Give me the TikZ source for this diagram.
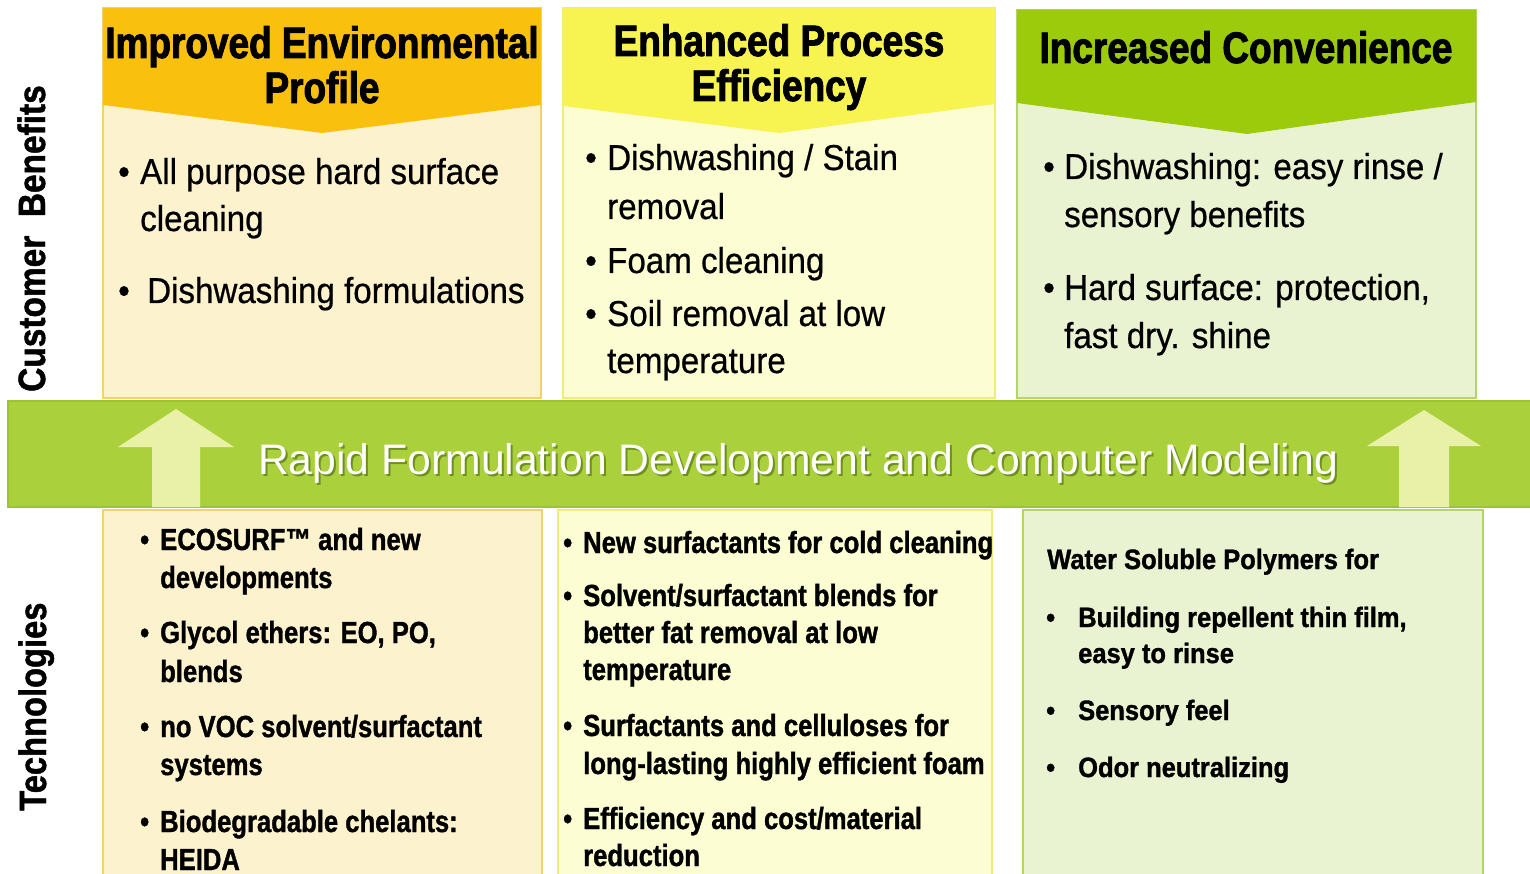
\documentclass[tikz,border=0pt]{standalone}
\usepackage{fontspec}
\setmainfont{Liberation Sans}
\newfontfamily\headfont[FakeStretch=0.84, FakeBold=2]{Liberation Sans}
\newfontfamily\bodyfont[FakeStretch=0.92, FakeBold=0.6]{Liberation Sans}
\newfontfamily\techfont[FakeStretch=0.84, FakeBold=1.2]{Liberation Sans}
\newfontfamily\polyfont[FakeStretch=0.91, FakeBold=1.2]{Liberation Sans}
\newfontfamily\sidefont[FakeStretch=0.88, FakeBold=1.2]{Liberation Sans}
\newfontfamily\sidefontb[FakeStretch=0.86, FakeBold=1.2]{Liberation Sans}

\definecolor{envhead}{HTML}{F9C10E}
\definecolor{envbody}{HTML}{FDF2CE}
\definecolor{envline}{HTML}{F1D36E}
\definecolor{prohead}{HTML}{F7F452}
\definecolor{probody}{HTML}{FDFDD3}
\definecolor{proline}{HTML}{EFEC7A}
\definecolor{conhead}{HTML}{9BCB0B}
\definecolor{conbody}{HTML}{EAF3D1}
\definecolor{conline}{HTML}{B2D566}
\definecolor{bandgreen}{HTML}{AAD03C}
\definecolor{bandedge}{HTML}{9CC431}
\definecolor{arrowfill}{HTML}{E9F0A8}
\definecolor{bandshade}{HTML}{6F8F1F}

\tikzset{
  hd/.style={font=\headfont\bfseries\fontsize{44}{46}\selectfont, anchor=base, inner sep=0pt},
  tb/.style={font=\bodyfont\fontsize{36}{40}\selectfont, anchor=base west, inner sep=0pt},
  bt/.style={font=\techfont\bfseries\fontsize{30.5}{34}\selectfont, anchor=base west, inner sep=0pt},
  pt/.style={font=\polyfont\bfseries\fontsize{28}{32}\selectfont, anchor=base west, inner sep=0pt},
  sidelabel/.style={anchor=base west, rotate=90, inner sep=0pt},
  panel/.style={line width=1.5pt},
  uparrow/.style={fill=arrowfill, draw=none}
}

\begin{document}
\begin{tikzpicture}[x=1pt, y=-1pt]
\useasboundingbox (0,0) rectangle (1530,874);
\fill[white] (0,0) rectangle (1530,874);

% ---------- customer benefit panels ----------
\filldraw[panel, fill=envbody, draw=envline] (103,8) rectangle (541,398);
\fill[envhead] (103,8) -- (541,8) -- (541,105) -- (322,133) -- (103,105) -- cycle;

\filldraw[panel, fill=probody, draw=proline] (563,8) rectangle (995,398);
\fill[prohead] (563,8) -- (995,8) -- (995,104) -- (779,133) -- (563,106) -- cycle;

\filldraw[panel, fill=conbody, draw=conline] (1017,10) rectangle (1476,398);
\fill[conhead] (1017,10) -- (1476,10) -- (1476,102) -- (1247,134) -- (1017,103) -- cycle;

% ---------- technology panels ----------
\filldraw[panel, fill=envbody, draw=envline] (103,510) rectangle (542,884);
\filldraw[panel, fill=probody, draw=proline] (558,510) rectangle (992,884);
\filldraw[panel, fill=conbody, draw=conline] (1023,510) rectangle (1483,884);

% ---------- central band with arrows ----------
\filldraw[fill=bandgreen, draw=bandedge, line width=1.5pt] (8,401) rectangle (1540,507);
\path[uparrow] (152,507) -- (152,447) -- (118,447) -- (176,409) -- (234,447) -- (200,447) -- (200,507) -- cycle;
\path[uparrow] (1399,507) -- (1399,446) -- (1367,446) -- (1424,410) -- (1481,446) -- (1449,446) -- (1449,507) -- cycle;

\node[anchor=base, inner sep=0pt, text=bandshade, font=\fontsize{42.7}{46}\selectfont] (bandshadow) at (800,476) {Rapid Formulation Development and Computer Modeling};
\node[anchor=base, inner sep=0pt, text=white, font=\fontsize{42.7}{46}\selectfont] (bandtext) at (798,474) {Rapid Formulation Development and Computer Modeling};

% ---------- side labels ----------
\node[sidelabel, font=\sidefont\bfseries\fontsize{38}{40}\selectfont] (custlabel) at (45,392) {Customer\ \ Benefits};
\node[sidelabel, font=\sidefontb\bfseries\fontsize{38}{40}\selectfont] (techlabel) at (46,811) {Technologies};

% ---------- header titles ----------
\node[hd] (envt1) at (322,58) {Improved Environmental};
\node[hd] (envt2) at (322,103) {Profile};
\node[hd] (prot1) at (779,56) {Enhanced Process};
\node[hd] (prot2) at (779,101) {Efficiency};
\node[hd] (cont1) at (1246,63) {Increased Convenience};

% ---------- benefit bullets ----------
\node[tb] (eb1) at (118,184) {•};
\node[tb] (et1) at (140,184) {All purpose hard surface};
\node[tb] (et2) at (140,231) {cleaning};
\node[tb] (eb2) at (118,303) {•};
\node[tb] (et3) at (147,303) {Dishwashing formulations};

\node[tb] (pb1) at (585,170) {•};
\node[tb] (pt1) at (607,170) {Dishwashing / Stain};
\node[tb] (pt2) at (607,219) {removal};
\node[tb] (pb2) at (585,273) {•};
\node[tb] (pt3) at (607,273) {Foam cleaning};
\node[tb] (pb3) at (585,326) {•};
\node[tb] (pt4) at (607,326) {Soil removal at low};
\node[tb] (pt5) at (607,373) {temperature};

\node[tb] (cb1) at (1043,179) {•};
\node[tb] (ct1) at (1064,179) {Dishwashing: easy rinse /};
\node[tb] (ct2) at (1064,227) {sensory benefits};
\node[tb] (cb2) at (1043,300) {•};
\node[tb] (ct3) at (1064,300) {Hard surface: protection,};
\node[tb] (ct4) at (1064,348) {fast dry. shine};

% ---------- technology bullets ----------
\node[bt] (tb1) at (140,550) {•};
\node[bt] (tt1) at (160,550) {ECOSURF™ and new};
\node[bt] (tt2) at (160,588) {developments};
\node[bt] (tb2) at (140,643) {•};
\node[bt] (tt3) at (160,643) {Glycol ethers: EO, PO,};
\node[bt] (tt4) at (160,682) {blends};
\node[bt] (tb3) at (140,737) {•};
\node[bt] (tt5) at (160,737) {no VOC solvent/surfactant};
\node[bt] (tt6) at (160,775) {systems};
\node[bt] (tb4) at (140,832) {•};
\node[bt] (tt7) at (160,832) {Biodegradable chelants:};
\node[bt] (tt8) at (160,870) {HEIDA};

\node[bt] (mb1) at (563,553) {•};
\node[bt] (mt1) at (583,553) {New surfactants for cold cleaning};
\node[bt] (mb2) at (563,606) {•};
\node[bt] (mt2) at (583,606) {Solvent/surfactant blends for};
\node[bt] (mt3) at (583,643) {better fat removal at low};
\node[bt] (mt4) at (583,680) {temperature};
\node[bt] (mb3) at (563,736) {•};
\node[bt] (mt5) at (583,736) {Surfactants and celluloses for};
\node[bt] (mt6) at (583,774) {long-lasting highly efficient foam};
\node[bt] (mb4) at (563,829) {•};
\node[bt] (mt7) at (583,829) {Efficiency and cost/material};
\node[bt] (mt8) at (583,866) {reduction};

\node[pt] (wt0) at (1047,569) {Water Soluble Polymers for};
\node[pt] (wb1) at (1046,627) {•};
\node[pt] (wt1) at (1078,627) {Building repellent thin film,};
\node[pt] (wt2) at (1078,663) {easy to rinse};
\node[pt] (wb2) at (1046,720) {•};
\node[pt] (wt3) at (1078,720) {Sensory feel};
\node[pt] (wb3) at (1046,777) {•};
\node[pt] (wt4) at (1078,777) {Odor neutralizing};
\end{tikzpicture}
\end{document}
